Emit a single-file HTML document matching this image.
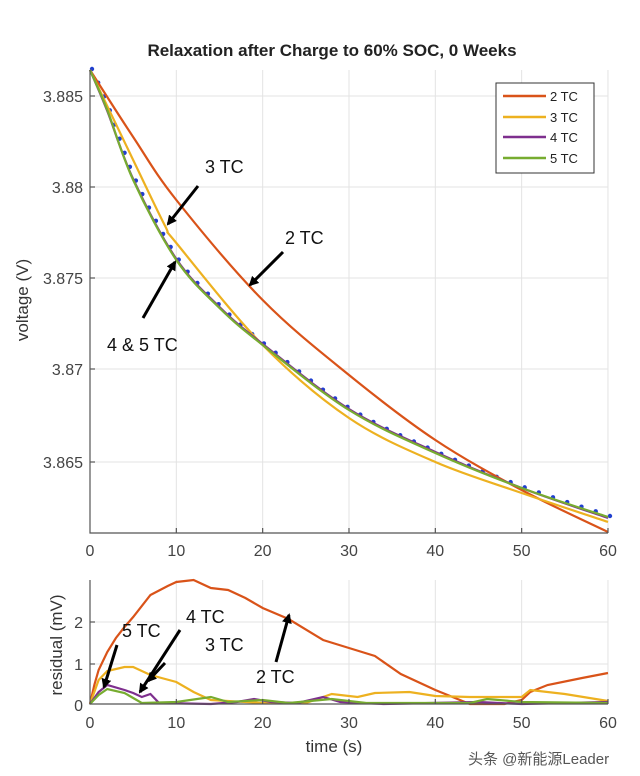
<!DOCTYPE html>
<html><head><meta charset="utf-8"><style>
body{margin:0;background:#fff;}
svg{display:block;font-family:"Liberation Sans",Arial,sans-serif;}
.tk{font-size:16px;fill:#444;}
.ann{font-size:18px;fill:#111;}
</style></head><body>
<svg id="s" width="640" height="776" viewBox="0 0 640 776">
<defs><marker id="ah" markerWidth="10" markerHeight="10" refX="8" refY="5" orient="auto" markerUnits="userSpaceOnUse"><path d="M0,0 L10,5 L0,10 z" fill="#000"/></marker></defs>
<g id="grid" stroke="#e3e3e3" stroke-width="1"></g>
<g id="series"></g>
<g id="axes" stroke="#555" stroke-width="1.2" fill="none"></g>
<text x="332" y="56" text-anchor="middle" font-size="17" font-weight="bold" fill="#222">Relaxation after Charge to 60% SOC, 0 Weeks</text>
<text transform="translate(28,300) rotate(-90)" text-anchor="middle" font-size="17" fill="#333">voltage (V)</text>
<text transform="translate(62,645) rotate(-90)" text-anchor="middle" font-size="17" fill="#333">residual (mV)</text>
<text x="334" y="752" text-anchor="middle" font-size="17" fill="#333">time (s)</text>
<text x="468" y="764" font-size="15" fill="#555" font-family="'Liberation Sans','Noto Sans CJK SC',sans-serif">头条 @新能源Leader</text>
<g class="tk" text-anchor="end">
<text x="83" y="102">3.885</text><text x="83" y="193">3.88</text><text x="83" y="284">3.875</text><text x="83" y="375">3.87</text><text x="83" y="468">3.865</text>
<text x="83" y="628">2</text><text x="83" y="670">1</text><text x="83" y="711">0</text>
</g>
<g id="xl" class="tk" text-anchor="middle"></g>
<rect x="496" y="83" width="98" height="90" fill="#fff" stroke="#333" stroke-width="1"/>
<g font-size="13" fill="#222">
<line x1="503" y1="96" x2="546" y2="96" stroke="#d95319" stroke-width="2.5"/><text x="550" y="101">2 TC</text>
<line x1="503" y1="117" x2="546" y2="117" stroke="#edb120" stroke-width="2.5"/><text x="550" y="122">3 TC</text>
<line x1="503" y1="137" x2="546" y2="137" stroke="#7e2f8e" stroke-width="2.5"/><text x="550" y="142">4 TC</text>
<line x1="503" y1="158" x2="546" y2="158" stroke="#77ac30" stroke-width="2.5"/><text x="550" y="163">5 TC</text>
</g>
<g stroke="#000" stroke-width="3" marker-end="url(#ah)">
<line x1="198" y1="186" x2="168" y2="224"/>
<line x1="283" y1="252" x2="250" y2="285"/>
<line x1="143" y1="318" x2="175" y2="262"/>
<line x1="117" y1="645" x2="104" y2="687"/>
<line x1="180" y1="630" x2="140" y2="692"/>
<line x1="165" y1="663" x2="148" y2="681"/>
<line x1="276" y1="662" x2="289" y2="615"/>
</g>
<g class="ann">
<text x="205" y="173">3 TC</text><text x="285" y="244">2 TC</text><text x="107" y="351">4 &amp; 5 TC</text>
<text x="122" y="637">5 TC</text><text x="186" y="623">4 TC</text><text x="205" y="651">3 TC</text><text x="256" y="683">2 TC</text>
</g>
</svg>
<script>
const S='http://www.w3.org/2000/svg';
const X=t=>90+t*8.633;
function cr(pts){let d='M'+pts[0][0]+','+pts[0][1];for(let i=0;i<pts.length-1;i++){const p0=pts[Math.max(0,i-1)],p1=pts[i],p2=pts[i+1],p3=pts[Math.min(pts.length-1,i+2)];d+=' C'+(p1[0]+(p2[0]-p0[0])/6)+','+(p1[1]+(p2[1]-p0[1])/6)+' '+(p2[0]-(p3[0]-p1[0])/6)+','+(p2[1]-(p3[1]-p1[1])/6)+' '+p2[0]+','+p2[1];}return d;}
function el(g,n,a){const e=document.createElementNS(S,n);for(const k in a)e.setAttribute(k,a[k]);document.getElementById(g).appendChild(e);return e;}
function P(arr){return arr.map(p=>[X(p[0]),p[1]]);}
for(let i=1;i<=6;i++){el('grid','line',{x1:X(i*10),y1:70,x2:X(i*10),y2:533});el('grid','line',{x1:X(i*10),y1:580,x2:X(i*10),y2:704});}
[96,187,278,369,462].forEach(y=>el('grid','line',{x1:90,y1:y,x2:608,y2:y}));
[622,664].forEach(y=>el('grid','line',{x1:90,y1:y,x2:608,y2:y}));
for(let i=0;i<=6;i++){const t=el('xl','text',{x:X(i*10),y:556});t.textContent=i*10;const t2=el('xl','text',{x:X(i*10),y:728});t2.textContent=i*10;}
el('axes','path',{d:'M90,70 V533 H608'});el('axes','path',{d:'M90,580 V704 H608'});
for(let i=1;i<=6;i++){el('axes','line',{x1:X(i*10),y1:533,x2:X(i*10),y2:528});el('axes','line',{x1:X(i*10),y1:704,x2:X(i*10),y2:699});}
[96,187,278,369,462].forEach(y=>el('axes','line',{x1:90,y1:y,x2:95,y2:y}));
[622,664].forEach(y=>el('axes','line',{x1:90,y1:y,x2:95,y2:y}));
const G=[[0,70],[2,110],[5,180],[10,260],[15,308],[20,345],[30,410],[40,453],[50,488],[60,517]];
const R=[[0,70],[5,137],[10,200],[20,300],[30,375],[40,440],[50,490],[60,532]];
const Yc=[[0,70],[5,160],[8.7,226],[10,243],[20,345],[30,418],[40,462],[50,493],[60,522]];
const Pu=[[0,70],[2,111],[5,179],[10,259],[15,307],[20,344],[30,409],[40,452],[50,488],[60,518]];
const gp=el('series','path',{d:cr(P(G)),fill:'none',stroke:'none'});
const L=gp.getTotalLength();
for(let i=0;i<=48;i++){const q=gp.getPointAtLength(L*i/48);el('series','circle',{cx:q.x+2,cy:q.y-1,r:2.2,fill:'#1f3fcf'});}
[[R,'#d95319'],[Yc,'#edb120'],[Pu,'#7e2f8e'],[G,'#77ac30']].forEach(([d,c])=>el('series','path',{d:cr(P(d)),fill:'none',stroke:c,'stroke-width':2.2}));
function poly(d,c){el('series','polyline',{points:P(d).map(p=>p.join(',')).join(' '),fill:'none',stroke:c,'stroke-width':2.2});}
poly([[0,704],[0.5,685],[1,670],[2,652],[3,638],[4,627],[5,617],[7,595],[9,586],[10,582],[12,580],[14,588],[16,590],[18,598],[20,608],[23,619],[27,640],[30,648],[33,656],[36,674],[40,690],[44,704],[48,704],[50,700],[51,692],[53,685],[57,678],[60,673]],'#d95319');
poly([[0,704],[1,680],[2,671],[4,667],[5,667],[7,675],[10,682],[12,692],[14,700],[20,703],[25,703],[28,694],[31,697],[33,693],[37,692],[40,696],[44,697],[50,697],[51,690],[55,694],[60,701]],'#edb120');
poly([[0,704],[1,692],[2,685],[4,690],[5,693],[6,697],[7,694],[8,703],[14,704],[17,702],[19,699],[21,702],[24,703],[27,697],[29,702],[34,704],[45,702],[50,704],[60,702]],'#7e2f8e');
poly([[0,704],[1,695],[2,689],[4,693],[6,703],[10,702],[14,697],[16,702],[20,700],[23,703],[28,699],[32,703],[44,703],[46,699],[50,702],[60,703]],'#77ac30');
</script>
</body></html>
